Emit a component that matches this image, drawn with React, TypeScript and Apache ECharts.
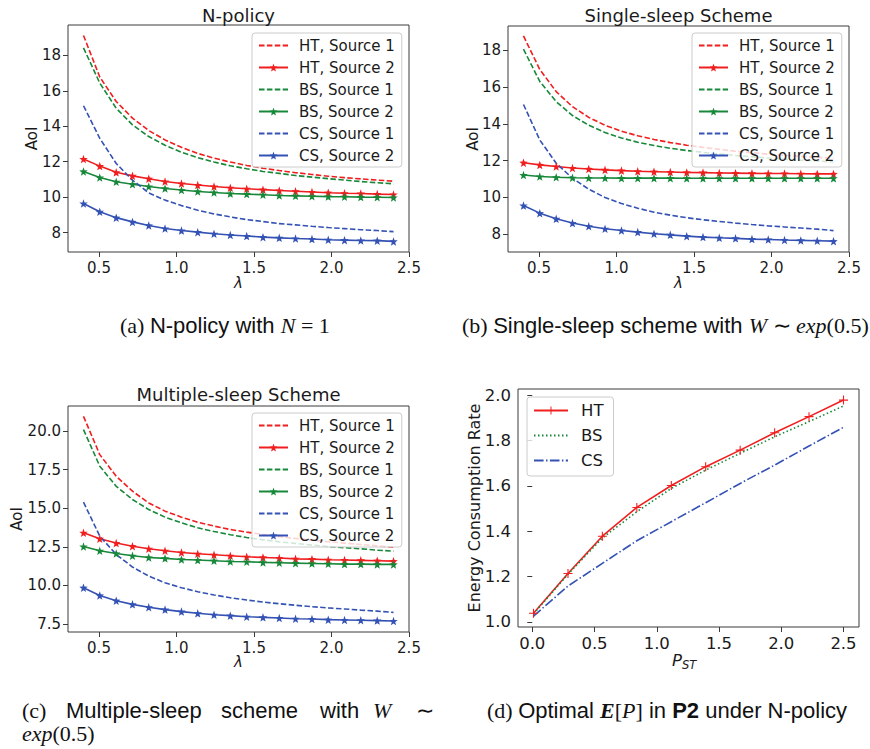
import React, { useEffect, useRef } from 'react';
import * as echarts from 'echarts';

// ---- data ----
const lambda = [0.4, 0.505, 0.611, 0.716, 0.821, 0.926, 1.032, 1.137, 1.242, 1.347, 1.453, 1.558, 1.663, 1.768, 1.874, 1.979, 2.084, 2.189, 2.295, 2.4];

// (a) N-policy
const aHT1 = [19.13, 16.78, 15.4, 14.46, 13.76, 13.23, 12.81, 12.47, 12.2, 11.98, 11.79, 11.63, 11.5, 11.38, 11.28, 11.18, 11.1, 11.03, 10.96, 10.9];
const aHT2 = [12.15, 11.75, 11.4, 11.2, 11.04, 10.88, 10.77, 10.68, 10.6, 10.53, 10.47, 10.42, 10.37, 10.33, 10.29, 10.25, 10.22, 10.2, 10.17, 10.15];
const aBS1 = [18.43, 16.44, 15.02, 14.08, 13.42, 12.93, 12.53, 12.23, 11.98, 11.77, 11.6, 11.45, 11.34, 11.22, 11.13, 11.04, 10.96, 10.88, 10.81, 10.75];
const aBS2 = [11.45, 11.11, 10.87, 10.73, 10.6, 10.49, 10.4, 10.32, 10.26, 10.2, 10.17, 10.13, 10.09, 10.07, 10.05, 10.03, 10.02, 10.0, 9.99, 9.98];
const aCS1 = [15.16, 13.32, 11.9, 10.96, 10.24, 9.83, 9.52, 9.26, 9.05, 8.88, 8.73, 8.62, 8.5, 8.43, 8.35, 8.28, 8.22, 8.16, 8.11, 8.05];
const aCS2 = [9.64, 9.17, 8.84, 8.6, 8.4, 8.23, 8.11, 8.02, 7.93, 7.86, 7.8, 7.74, 7.7, 7.66, 7.63, 7.59, 7.57, 7.55, 7.54, 7.5];

// (b) Single-sleep scheme
const bHT1 = [18.77, 16.95, 15.75, 14.93, 14.35, 13.92, 13.6, 13.35, 13.15, 12.98, 12.84, 12.72, 12.61, 12.51, 12.43, 12.35, 12.29, 12.23, 12.18, 12.13];
const bHT2 = [11.89, 11.77, 11.68, 11.6, 11.55, 11.5, 11.46, 11.42, 11.4, 11.38, 11.36, 11.35, 11.33, 11.32, 11.31, 11.3, 11.3, 11.29, 11.28, 11.28];
const bBS1 = [18.05, 16.3, 15.2, 14.45, 13.92, 13.53, 13.23, 13.0, 12.82, 12.67, 12.55, 12.45, 12.36, 12.28, 12.21, 12.14, 12.08, 12.03, 11.98, 11.93];
const bBS2 = [11.22, 11.14, 11.1, 11.07, 11.06, 11.06, 11.05, 11.05, 11.05, 11.05, 11.04, 11.04, 11.04, 11.04, 11.04, 11.04, 11.04, 11.04, 11.04, 11.04];
const bCS1 = [15.05, 13.12, 11.86, 11.04, 10.45, 10.0, 9.67, 9.42, 9.2, 9.04, 8.9, 8.79, 8.7, 8.61, 8.53, 8.46, 8.4, 8.34, 8.28, 8.2];
const bCS2 = [9.56, 9.15, 8.84, 8.61, 8.44, 8.3, 8.21, 8.12, 8.03, 7.97, 7.9, 7.85, 7.81, 7.78, 7.74, 7.72, 7.69, 7.67, 7.65, 7.63];

// (c) Multiple-sleep scheme
const cHT1 = [20.95, 18.47, 17.07, 16.1, 15.34, 14.81, 14.42, 14.09, 13.84, 13.62, 13.45, 13.3, 13.15, 13.04, 12.93, 12.83, 12.74, 12.65, 12.56, 12.47];
const cHT2 = [13.41, 13.02, 12.74, 12.54, 12.37, 12.24, 12.13, 12.05, 11.98, 11.92, 11.85, 11.81, 11.77, 11.72, 11.7, 11.66, 11.64, 11.62, 11.6, 11.57];
const cBS1 = [20.09, 17.72, 16.42, 15.56, 14.91, 14.42, 14.05, 13.73, 13.49, 13.28, 13.1, 12.95, 12.82, 12.72, 12.61, 12.52, 12.44, 12.37, 12.28, 12.22];
const cBS2 = [12.52, 12.24, 12.07, 11.92, 11.81, 11.75, 11.68, 11.64, 11.6, 11.55, 11.53, 11.49, 11.47, 11.44, 11.42, 11.4, 11.38, 11.38, 11.36, 11.36];
const cCS1 = [15.39, 13.19, 12.0, 11.19, 10.6, 10.17, 9.85, 9.59, 9.38, 9.2, 9.05, 8.92, 8.81, 8.71, 8.62, 8.54, 8.47, 8.4, 8.33, 8.25];
const cCS2 = [9.85, 9.35, 9.01, 8.77, 8.58, 8.43, 8.3, 8.19, 8.1, 8.04, 7.97, 7.93, 7.89, 7.84, 7.82, 7.78, 7.76, 7.74, 7.72, 7.69];

// (d) Energy consumption rate vs P_ST
const pst = [0.01, 0.287, 0.563, 0.84, 1.117, 1.393, 1.67, 1.947, 2.223, 2.5];
const dHT = [1.038, 1.213, 1.378, 1.505, 1.602, 1.685, 1.758, 1.835, 1.906, 1.979];
const dBS = [1.035, 1.21, 1.37, 1.486, 1.589, 1.67, 1.744, 1.817, 1.884, 1.953];
const dCS = [1.025, 1.158, 1.258, 1.358, 1.442, 1.526, 1.611, 1.692, 1.776, 1.859];

// ticks
const lamTicks = [0.5, 1.0, 1.5, 2.0, 2.5];
const aTicksY = [8, 10, 12, 14, 16, 18];
const bTicksY = [8, 10, 12, 14, 16, 18];
const cTicksY = [7.5, 10.0, 12.5, 15.0, 17.5, 20.0];
const dTicksX = [0.0, 0.5, 1.0, 1.5, 2.0, 2.5];
const dTicksY = [1.0, 1.2, 1.4, 1.6, 1.8, 2.0];

const names = ['HT, Source 1', 'HT, Source 2', 'BS, Source 1', 'BS, Source 2', 'CS, Source 1', 'CS, Source 2'];

const RED = '#f01e1e';
const GREEN = '#17883a';
const BLUE = '#3452b4';
const TXT = '#1a1a1a';
const SPINE = '#3a3a3a';
const FONT = 'DejaVu Sans';

const STAR = 'path://M0,-10 L2.35,-3.24 L9.51,-3.09 L3.8,1.24 L5.88,8.09 L0,4.5 L-5.88,8.09 L-3.8,1.24 L-9.51,-3.09 L-2.35,-3.24 Z';
const PLUS = 'path://M-0.6,-5 L0.6,-5 L0.6,-0.6 L5,-0.6 L5,0.6 L0.6,0.6 L0.6,5 L-0.6,5 L-0.6,0.6 L-5,0.6 L-5,-0.6 L-0.6,-0.6 Z';

function lineSeries(name: string, xs: number[], ys: number[], color: string, idx: number, kind: string) {
  const withStar = kind === 'star';
  const withPlus = kind === 'plus';
  const marked = withStar || withPlus;
  let type: any = 'solid';
  if (kind === 'dash') type = [5.5, 2.4];
  if (kind === 'dot') type = [1.5, 2.5];
  if (kind === 'dashdot') type = [9.6, 2.4, 1.5, 2.4];
  return {
    type: 'line',
    name,
    xAxisIndex: idx,
    yAxisIndex: idx,
    data: xs.map((x, i) => [x, ys[i]]),
    symbol: withStar ? STAR : withPlus ? PLUS : 'none',
    symbolSize: withStar ? 8.5 : 9,
    showSymbol: marked,
    lineStyle: { color, width: 1.6, type, opacity: 1 },
    itemStyle: marked ? { color } : { color, opacity: 0 },
    silent: true,
    clip: false,
    z: 2,
  };
}

function lamAxis(idx: number) {
  return {
    type: 'value',
    gridIndex: idx,
    min: 0.3,
    max: 2.5,
    axisLine: { show: false },
    splitLine: { show: false },
    axisTick: { show: true, length: 5, lineStyle: { color: SPINE, width: 1 }, customValues: lamTicks },
    axisLabel: {
      customValues: lamTicks, margin: 8, fontSize: 15, fontFamily: FONT, color: TXT,
      formatter: (v: number) => v.toFixed(1),
    },
  };
}

function yAxis(idx: number, min: number, max: number, ticks: number[], dec: number, fs: number) {
  return {
    type: 'value',
    gridIndex: idx,
    min,
    max,
    axisLine: { show: false },
    splitLine: { show: false },
    axisTick: { show: true, length: 5, lineStyle: { color: SPINE, width: 1 }, customValues: ticks },
    axisLabel: {
      customValues: ticks, margin: 7, fontSize: fs, fontFamily: FONT, color: TXT,
      formatter: (v: number) => v.toFixed(dec),
    },
  };
}

function legend(left: number, top: number, data: string[], fs: number, iw: number, gap: number, pad: number[], tpad: number) {
  return {
    orient: 'vertical',
    left,
    top,
    data,
    selectedMode: false,
    itemWidth: iw,
    itemHeight: 10,
    itemGap: gap,
    padding: pad,
    backgroundColor: 'rgba(255,255,255,0.8)',
    borderColor: '#cccccc',
    borderWidth: 1,
    borderRadius: 3,
    z: 10,
    textStyle: { fontSize: fs, fontFamily: FONT, color: TXT, lineHeight: fs, padding: [0, 0, 0, tpad] },
  };
}

function text(t: string, x: number, y: number, fontSize: number, extra: any = {}, rot = 0) {
  return {
    type: 'text',
    x,
    y,
    rotation: rot,
    silent: true,
    z: 20,
    style: {
      text: t,
      fontSize,
      fontFamily: FONT,
      fill: TXT,
      textAlign: 'center',
      textVerticalAlign: 'middle',
      align: 'center',
      verticalAlign: 'middle',
      ...extra,
    },
  };
}

const SANS = 'Liberation Sans';
const SERIF = 'Liberation Serif';
const CAP = 22;
const INK = '#111';
const capStyles = {
  s: { fontFamily: SERIF, fontSize: CAP, fill: INK },
  h: { fontFamily: SANS, fontSize: CAP, fill: INK },
  hb: { fontFamily: SANS, fontSize: CAP, fill: INK, fontWeight: 'bold' },
  i: { fontFamily: SERIF, fontStyle: 'italic', fontSize: CAP, fill: INK },
  bi: { fontFamily: SERIF, fontStyle: 'italic', fontWeight: 'bold', fontSize: CAP, fill: INK },
};
function cap(t: string, x: number, y: number) {
  return text(t, x, y, CAP, { fontFamily: SERIF, textAlign: 'left', align: 'left', fill: INK, rich: capStyles });
}

export default function App() {
  const ref = useRef<HTMLDivElement>(null);
  useEffect(() => {
    document.body.style.margin = '0';
    if (!ref.current) return;
    const chart = echarts.init(ref.current, null, { renderer: 'svg' });

    const series: any[] = [];
    const panels = [
      [aHT1, aHT2, aBS1, aBS2, aCS1, aCS2],
      [bHT1, bHT2, bBS1, bBS2, bCS1, bCS2],
      [cHT1, cHT2, cBS1, cBS2, cCS1, cCS2],
    ];
    const colors = [RED, RED, GREEN, GREEN, BLUE, BLUE];
    panels.forEach((p, idx) => {
      p.forEach((ys, k) => {
        series.push(lineSeries(names[k], lambda, ys, colors[k], idx, k % 2 === 0 ? 'dash' : 'star'));
      });
    });
    series.push(lineSeries('HT', pst, dHT, RED, 3, 'plus'));
    series.push(lineSeries('BS', pst, dBS, GREEN, 3, 'dot'));
    series.push(lineSeries('CS', pst, dCS, BLUE, 3, 'dashdot'));

    const gridBase = { show: true, borderColor: SPINE, borderWidth: 1, backgroundColor: 'transparent', containLabel: false, outerBoundsMode: 'none' };

    const option: any = {
      animation: false,
      backgroundColor: '#ffffff',
      grid: [
        { ...gridBase, left: 68, top: 25, width: 341, height: 227 },
        { ...gridBase, left: 508, top: 26, width: 341, height: 226 },
        { ...gridBase, left: 68, top: 406, width: 341, height: 226 },
        { ...gridBase, left: 518, top: 389, width: 341, height: 238 },
      ],
      xAxis: [
        lamAxis(0),
        lamAxis(1),
        lamAxis(2),
        {
          ...lamAxis(3),
          min: -0.1145,
          max: 2.6245,
          axisTick: { show: true, length: 5, lineStyle: { color: SPINE, width: 1 }, customValues: dTicksX },
          axisLabel: { customValues: dTicksX, margin: 8, fontSize: 16.5, fontFamily: FONT, color: TXT, formatter: (v: number) => v.toFixed(1) },
        },
      ],
      yAxis: [
        yAxis(0, 6.9, 19.72, aTicksY, 0, 15),
        yAxis(1, 7.04, 19.31, bTicksY, 0, 15),
        yAxis(2, 6.98, 21.62, cTicksY, 1, 15),
        yAxis(3, 0.977, 2.028, dTicksY, 1, 16.5),
      ],
      legend: [
        legend(252, 33, names, 15, 29, 7, [5, 7, 4, 6], 6),
        legend(692, 33, names, 15, 29, 7, [5, 7, 4, 6], 6),
        legend(252, 413, names, 15, 29, 7, [5, 7, 4, 6], 6),
        legend(527, 397, ['HT', 'BS', 'CS'], 16.5, 34, 8, [5, 10, 7, 6], 8),
      ],
      series,
      graphic: [
        // titles
        text('N-policy', 238.5, 15, 18),
        text('Single-sleep Scheme', 678.5, 15, 18),
        text('Multiple-sleep Scheme', 238.5, 394, 18),
        // axis names
        text('λ', 238.5, 283, 15, { fontStyle: 'italic' }),
        text('λ', 678.5, 283, 15, { fontStyle: 'italic' }),
        text('λ', 238.5, 662, 15, { fontStyle: 'italic' }),
        text('AoI', 32, 138.5, 15, {}, Math.PI / 2),
        text('AoI', 473, 139, 15, {}, Math.PI / 2),
        text('AoI', 17, 519, 15, {}, Math.PI / 2),
        text('Energy Consumption Rate', 474, 508, 16, {}, Math.PI / 2),
        text('P', 682, 660, 16.5, { fontStyle: 'italic', textAlign: 'right', align: 'right' }),
        text('ST', 682, 665, 11.5, { fontStyle: 'italic', textAlign: 'left', align: 'left' }),
        // captions
        cap('{s|(a) }{h|N-policy with }{i|N}{s| = 1}', 120, 325),
        cap('{s|(b) }{h|Single-sleep scheme with }{i|W}{s| ∼ }{i|exp}{s|(0.5)}', 462, 325),
        cap('{s|(c)}', 22, 710),
        cap('{h|Multiple-sleep}', 66, 710),
        cap('{h|scheme}', 221, 710),
        cap('{h|with}', 320, 710),
        cap('{i|W}', 373, 710),
        cap('{s|∼}', 416, 710),
        cap('{i|exp}{s|(0.5)}', 22, 733),
        cap('{s|(d) }{h|Optimal }{bi|E}{s|[}{i|P}{s|]}{h| in }{hb|P2}{h| under N-policy}', 487, 710),
      ],
    };
    chart.setOption(option);
    return () => chart.dispose();
  }, []);
  return <div ref={ref} style={{ width: 870, height: 749 }} />;
}
